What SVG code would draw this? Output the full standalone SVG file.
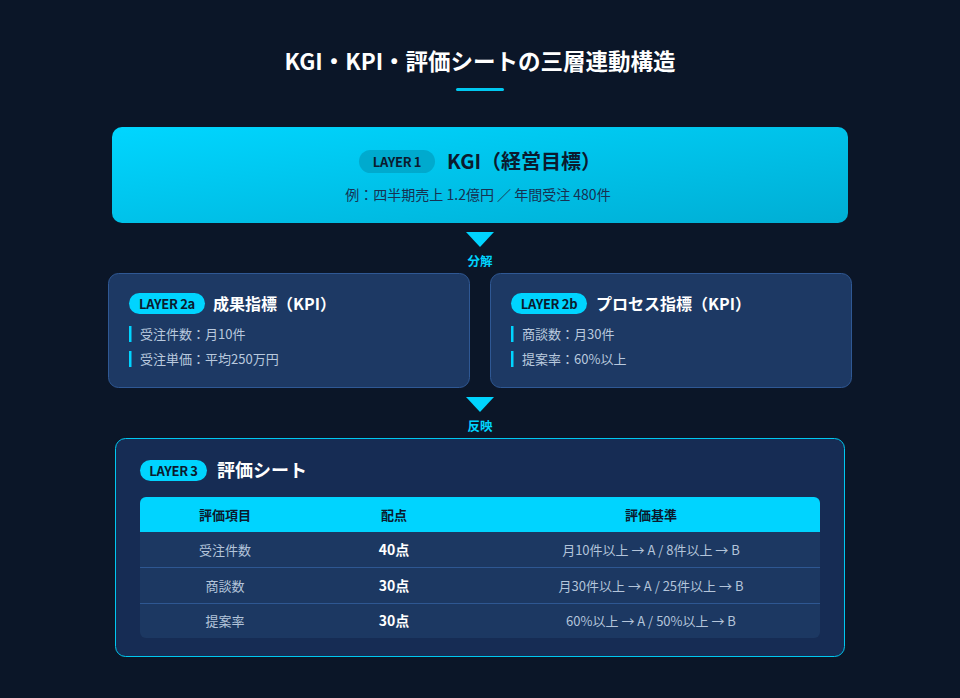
<svg xmlns="http://www.w3.org/2000/svg" width="960" height="698" viewBox="0 0 960 698">
<defs>
<linearGradient id="g1" x1="0" y1="0" x2="1" y2="1">
<stop offset="0" stop-color="#00d6ff"/>
<stop offset="1" stop-color="#00aed4"/>
</linearGradient>
<clipPath id="tclip"><rect x="140" y="497" width="680" height="141" rx="6"/></clipPath>
<style>
text{font-family:"Noto Sans CJK JP","Noto Sans",sans-serif;}
.b{font-weight:700;}
.badge{fill:#00d4ff;}
.bt{font-size:13px;font-weight:700;fill:#0b1a2e;text-anchor:middle;letter-spacing:-0.3px;}
.card{fill:#1d3964;stroke:#2f5894;stroke-width:1;}
.h2{font-size:16px;font-weight:700;fill:#ffffff;}
.item{font-size:13px;fill:#b9c9de;}
.bar{fill:#00d4ff;}
.arrow{fill:#00d4ff;}
.lbl{font-size:12.5px;font-weight:700;fill:#00d4ff;text-anchor:middle;}
.th{font-size:13px;font-weight:700;fill:#0b1a2e;text-anchor:middle;}
.td{font-size:13px;fill:#b3c4da;text-anchor:middle;}
.tdb{font-size:14px;font-weight:700;fill:#ffffff;text-anchor:middle;}
</style>
</defs>
<rect x="0" y="0" width="960" height="698" fill="#0b1628"/>
<g id="title">
<text x="480" y="70" text-anchor="middle" font-size="22.5" class="b" fill="#ffffff">KGI・KPI・評価シートの三層連動構造</text>
<rect x="456" y="88" width="48" height="3" rx="1.5" fill="#00c8f0"/>
</g>
<g id="layer1">
<rect x="112" y="127" width="736" height="96" rx="10" fill="url(#g1)"/>
<rect x="359" y="150" width="76" height="23" rx="11.5" fill="#00a2c6" opacity="0.8"/>
<text x="397" y="166.5" class="bt">LAYER 1</text>
<text x="447" y="169" font-size="20" class="b" fill="#0b1a2e">KGI（経営目標）</text>
<text x="478" y="200" text-anchor="middle" font-size="14" fill="#173152">例：四半期売上 1.2億円 ／ 年間受注 480件</text>
</g>
<g id="connectors">
<polygon class="arrow" points="466,232 494,232 480,247"/>
<text x="480" y="266" class="lbl">分解</text>
<polygon class="arrow" points="466,397 494,397 480,412"/>
<text x="480" y="431" class="lbl">反映</text>
</g>
<g id="layer2a">
<rect class="card" x="108.5" y="273.5" width="361" height="114" rx="10"/>
<rect class="badge" x="129" y="293" width="76" height="21" rx="10.5"/>
<text x="167" y="308.5" class="bt">LAYER 2a</text>
<text x="213" y="310" class="h2">成果指標（KPI）</text>
<rect class="bar" x="129" y="326" width="2.5" height="16"/>
<text x="140" y="339" class="item">受注件数：月10件</text>
<rect class="bar" x="129" y="351" width="2.5" height="16"/>
<text x="140" y="364" class="item">受注単価：平均250万円</text>
</g>
<g id="layer2b">
<rect class="card" x="490.5" y="273.5" width="361" height="114" rx="10"/>
<rect class="badge" x="511" y="293" width="76" height="21" rx="10.5"/>
<text x="549" y="308.5" class="bt">LAYER 2b</text>
<text x="596" y="310" class="h2">プロセス指標（KPI）</text>
<rect class="bar" x="511" y="326" width="2.5" height="16"/>
<text x="522" y="339" class="item">商談数：月30件</text>
<rect class="bar" x="511" y="351" width="2.5" height="16"/>
<text x="522" y="364" class="item">提案率：60%以上</text>
</g>
<g id="layer3">
<rect x="115.5" y="438.5" width="729" height="218" rx="10" fill="#162c54" stroke="#00c8f0" stroke-width="1"/>
<rect class="badge" x="140" y="460" width="67" height="21" rx="10.5"/>
<text x="173.5" y="475.5" class="bt">LAYER 3</text>
<text x="217" y="477" font-size="18" class="b" fill="#ffffff">評価シート</text>
<g id="table" clip-path="url(#tclip)">
<rect x="140" y="497" width="680" height="35" fill="#00d4ff"/>
<rect x="140" y="532" width="680" height="106" fill="#1c3862"/>
<rect x="140" y="567" width="680" height="1" fill="#2e5792"/>
<rect x="140" y="603" width="680" height="1" fill="#2e5792"/>
</g>
<text x="225" y="520" class="th">評価項目</text>
<text x="394" y="520" class="th">配点</text>
<text x="651" y="520" class="th">評価基準</text>
<text x="225" y="555" class="td">受注件数</text>
<text x="394" y="555" class="tdb">40点</text>
<text x="651" y="555" class="td">月10件以上 → A / 8件以上 → B</text>
<text x="225" y="591" class="td">商談数</text>
<text x="394" y="591" class="tdb">30点</text>
<text x="651" y="591" class="td">月30件以上 → A / 25件以上 → B</text>
<text x="225" y="626" class="td">提案率</text>
<text x="394" y="626" class="tdb">30点</text>
<text x="651" y="626" class="td">60%以上 → A / 50%以上 → B</text>
</g>
</svg>
